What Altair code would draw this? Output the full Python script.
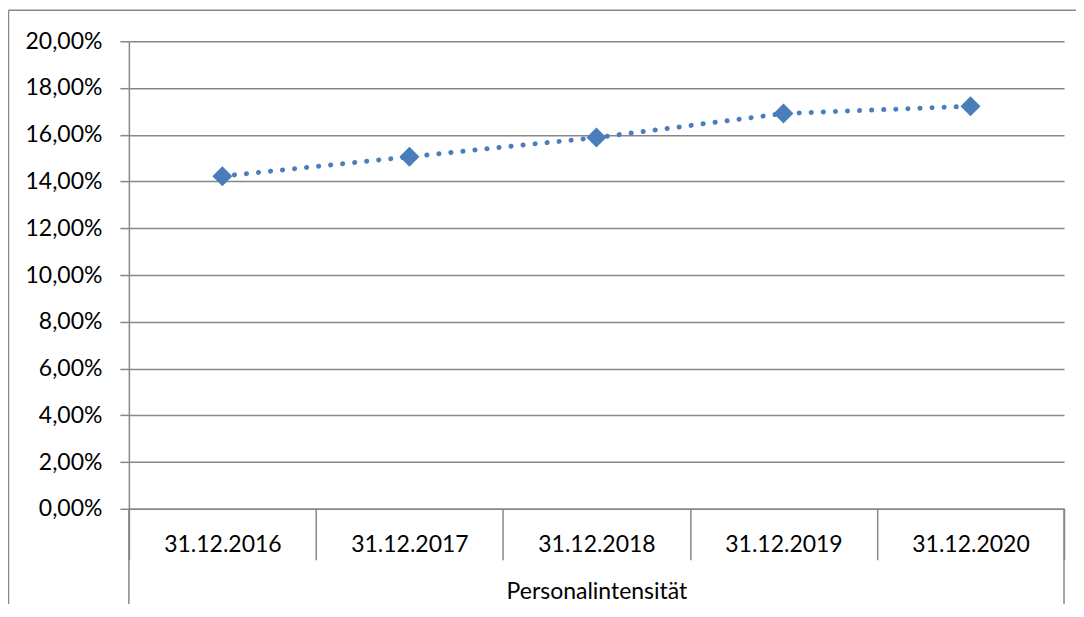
import altair as alt
import pandas as pd

dates = ["31.12.2016", "31.12.2017", "31.12.2018", "31.12.2019", "31.12.2020"]
values = [0.1423, 0.1506, 0.1588, 0.1691, 0.1722]
y_ticks = [0.0, 0.02, 0.04, 0.06, 0.08, 0.10, 0.12, 0.14, 0.16, 0.18, 0.20]
x_title = "Personalintensität"

W, H = 936, 468
FONT = "Lato"
GRAY = "#878787"
BLUE = "#4a7ebb"

df = pd.DataFrame({"date": dates, "value": values})

x_enc = alt.X(
    "date:N",
    sort=dates,
    scale=alt.Scale(type="band", paddingInner=0, paddingOuter=0),
    axis=alt.Axis(
        title=x_title,
        titleFont=FONT,
        titleFontSize=23,
        titleFontWeight="normal",
        titleColor="black",
        titleY=83,
        titleBaseline="middle",
        labelFont=FONT,
        labelFontSize=23,
        labelColor="black",
        labelAngle=0,
        labelBaseline="middle",
        labelPadding=-15,
        tickBand="extent",
        tickSize=51,
        tickColor=GRAY,
        tickWidth=1.5,
        domainColor=GRAY,
        domainWidth=1.5,
        grid=False,
    ),
)

y_enc = alt.Y(
    "value:Q",
    scale=alt.Scale(domain=[0, 0.2], nice=False, zero=True),
    axis=alt.Axis(
        title=None,
        values=y_ticks,
        labelExpr="replace(format(datum.value, '.2%'), '.', ',')",
        labelFont=FONT,
        labelFontSize=23,
        labelColor="black",
        labelPadding=18,
        tickSize=9,
        tickColor=GRAY,
        tickWidth=1.5,
        domainColor=GRAY,
        domainWidth=1.5,
        grid=True,
        gridColor=GRAY,
        gridWidth=1.5,
    ),
)

base = alt.Chart(df)

line = base.mark_line(
    color=BLUE, strokeWidth=5, strokeDash=[0.1, 12], strokeCap="round"
).encode(x=x_enc, y=y_enc)

points = base.mark_point(
    shape="diamond", filled=True, size=400, color=BLUE, opacity=1
).encode(x=x_enc, y=y_enc)

one = alt.Data(values=[{"a": 1}])

outer_left = alt.Chart(one).mark_rule(color=GRAY, strokeWidth=1.5).encode(
    x=alt.value(0), y=alt.value(H), y2=alt.value(H + 103)
)
outer_right = alt.Chart(one).mark_rule(color=GRAY, strokeWidth=1.5).encode(
    x=alt.value(W), y=alt.value(H), y2=alt.value(H + 103)
)
frame_top = alt.Chart(one).mark_rule(color=GRAY, strokeWidth=1.5).encode(
    x=alt.value(-120.5), x2=alt.value(W + 60), y=alt.value(-31)
)
frame_left = alt.Chart(one).mark_rule(color=GRAY, strokeWidth=1.5).encode(
    x=alt.value(-120.5), y=alt.value(-31), y2=alt.value(H + 160)
)

chart = (
    alt.layer(frame_top, frame_left, outer_left, outer_right, line, points)
    .properties(
        width=W,
        height=H,
        autosize=alt.AutoSizeParams(type="none"),
        padding={"left": 121, "top": 33, "right": 12, "bottom": 95},
        background="white",
    )
    .configure_view(stroke=None)
)

chart.save("out.html", embed_options={"renderer": "svg", "actions": False})
